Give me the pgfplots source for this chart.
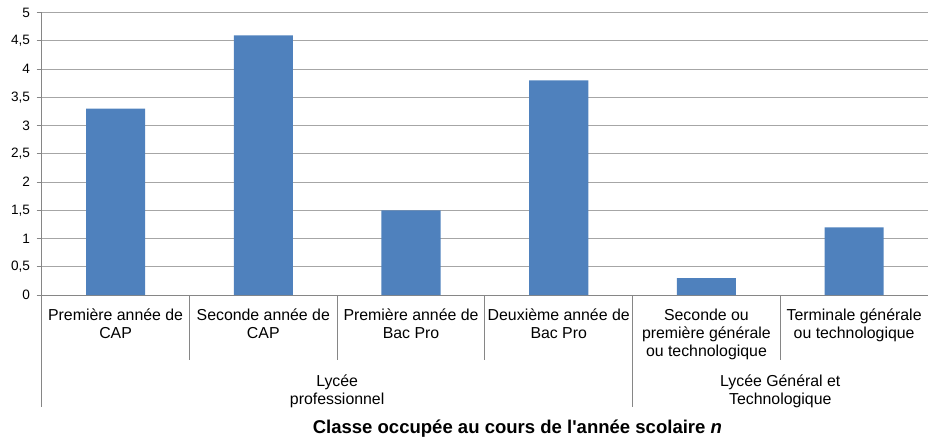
\documentclass[border=0pt]{standalone}
\usepackage{fontspec}
\setmainfont{Liberation Sans}
\newfontfamily\arial{Liberation Sans}
\usepackage{pgfplots}
\pgfplotsset{compat=1.18}
\usetikzlibrary{calc}
\definecolor{barblue}{RGB}{79,129,189}
\definecolor{gridgray}{RGB}{166,166,166}
\definecolor{axisgray}{RGB}{134,134,134}
\newcommand{\lbl}[1]{{\fontsize{11.9}{13.6}\selectfont\begin{tabular}[t]{@{}c@{}}#1\end{tabular}}}
\begin{document}
\arial
\begin{tikzpicture}
\begin{axis}[
  name=ax,
  scale only axis,
  width=664.7pt, height=211.8pt,
  xmin=-0.5, xmax=5.5, ymin=0, ymax=5,
  axis lines=left,
  axis line style={-, axisgray, line width=0.75pt},
  xtick=\empty,
  ytick={0,0.5,1,1.5,2,2.5,3,3.5,4,4.5,5},
  /pgf/number format/use comma,
  /pgf/number format/fixed,
  /pgf/number format/assume math mode=true,
  tick label style={font=\fontsize{10.2}{12}\selectfont, text=black},
  yticklabel style={xshift=-1.5pt},
  tick align=outside,
  major tick length=3.75pt,
  tick style={axisgray, line width=0.75pt},
  ymajorgrids,
  grid style={gridgray, line width=0.75pt},
  clip=false,
]
\addplot[ybar, bar width=0.4, fill=barblue, draw=none]
  coordinates {(0,3.3) (1,4.6) (2,1.5) (3,3.8) (4,0.3) (5,1.2)};

% separators
\draw[axisgray, line width=0.75pt] (axis cs:-0.5,0) -- ++(0pt,-84pt);
\draw[axisgray, line width=0.75pt] (axis cs:3.5,0) -- ++(0pt,-84pt);
\draw[axisgray, line width=0.75pt] (axis cs:0.5,0) -- ++(0pt,-48.75pt);
\draw[axisgray, line width=0.75pt] (axis cs:1.5,0) -- ++(0pt,-48.75pt);
\draw[axisgray, line width=0.75pt] (axis cs:2.5,0) -- ++(0pt,-48.75pt);
\draw[axisgray, line width=0.75pt] (axis cs:4.5,0) -- ++(0pt,-48.75pt);

% category labels
\node[anchor=base, inner sep=0pt, yshift=-18.75pt] at (axis cs:0,0) {\lbl{Première année de\\CAP}};
\node[anchor=base, inner sep=0pt, yshift=-18.75pt] at (axis cs:1,0) {\lbl{Seconde année de\\CAP}};
\node[anchor=base, inner sep=0pt, yshift=-18.75pt] at (axis cs:2,0) {\lbl{Première année de\\Bac Pro}};
\node[anchor=base, inner sep=0pt, yshift=-18.75pt] at (axis cs:3,0) {\lbl{Deuxième année de\\Bac Pro}};
\node[anchor=base, inner sep=0pt, yshift=-18.75pt] at (axis cs:4,0) {\lbl{Seconde ou\\première générale\\ou technologique}};
\node[anchor=base, inner sep=0pt, yshift=-18.75pt] at (axis cs:5,0) {\lbl{Terminale générale\\ou technologique}};

% group labels
\node[anchor=base, inner sep=0pt, yshift=-68.6pt] at (axis cs:1.5,0) {\lbl{Lycée\\professionnel}};
\node[anchor=base, inner sep=0pt, yshift=-68.6pt] at (axis cs:4.5,0) {\lbl{Lycée Général et\\Technologique}};

% axis title
\node[anchor=base, inner sep=0pt, yshift=-103.7pt] at (axis cs:2.72,0)
  {\fontsize{13.9}{16}\selectfont\bfseries Classe occupée au cours de l'année scolaire \textit{n}};
\end{axis}
\pgfresetboundingbox
\path[use as bounding box] ($(ax.south west)+(-31.3pt,-108pt)$) rectangle ($(ax.north east)+(0,9.5pt)$);
\end{tikzpicture}
\end{document}
